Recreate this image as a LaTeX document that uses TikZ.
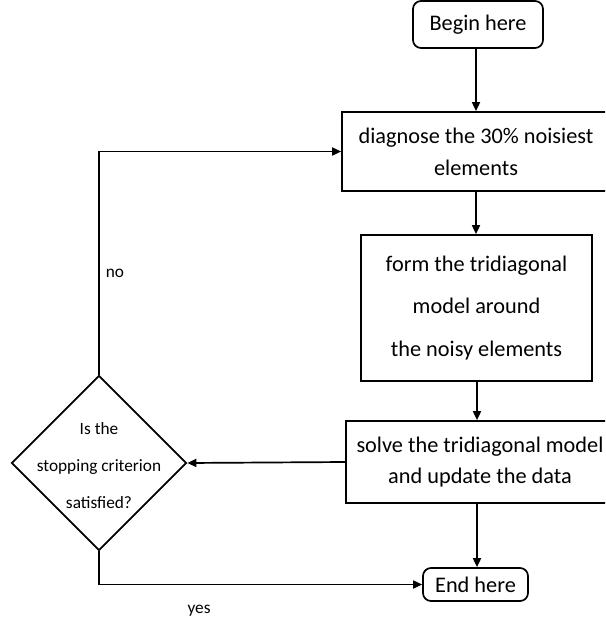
\documentclass[tikz,border=0pt]{standalone}
\usepackage{fontspec}
\setmainfont{Carlito}
\usetikzlibrary{shapes.geometric,arrows.meta}
\begin{document}
\begin{tikzpicture}[x=1pt,y=-1pt,
  box/.style={draw,line width=1.7pt,rectangle,inner sep=0pt,align=center,font=\fontsize{22.3}{32}\selectfont},
  rbox/.style={box,rounded corners=8pt},
  arr/.style={-{Triangle[length=9pt,width=8pt]},line width=1.7pt},
  lbl/.style={font=\fontsize{17.3}{20}\selectfont,inner sep=0pt}]
\clip (0,0) rectangle (605,623);
\useasboundingbox (0,0) rectangle (605,623);
\node[rbox,minimum width=130pt,minimum height=47pt] (begin) at (478,24.5) {Begin here};
\node[box,minimum width=268pt,minimum height=79pt] (diag) at (476,151.5) {diagnose the 30\% noisiest\\elements};
\node[box,minimum width=231pt,minimum height=146pt,font=\fontsize{22.3}{42.5}\selectfont] (form) at (476.5,308) {form the tridiagonal\\model around\\the noisy elements};
\node[box,minimum width=268pt,minimum height=82pt,font=\fontsize{22.3}{31}\selectfont] (solve) at (480,462) {solve the tridiagonal model\\and update the data};
\node[rbox,minimum width=105pt,minimum height=33pt] (end) at (475.5,584.5) {End here};
\node[draw,diamond,line width=1.7pt,minimum width=175pt,minimum height=175pt,inner sep=0pt] (dia) at (99,463) {};
\node[lbl,align=center,font=\fontsize{17.3}{37}\selectfont] (dtxt) at (99,466) {Is the\\stopping criterion\\satisfied?};
\node[lbl] (no) at (115,273) {no};
\node[lbl] (yes) at (199,611) {yes};
\draw[arr] (begin.south -| 476,0) -- (476,0 |- diag.north);
\draw[arr] (diag.south -| 476,0) -- (476,0 |- form.north);
\draw[arr] (form.south -| 477,0) -- (477,0 |- solve.north);
\draw[arr] (solve.south -| 477,0) -- (477,0 |- end.north);
\draw[arr] (solve.west) -- (dia.east);
\draw[arr] (dia.north) |- (diag.west);
\draw[arr] (dia.south) |- (end.west);
\end{tikzpicture}
\end{document}
